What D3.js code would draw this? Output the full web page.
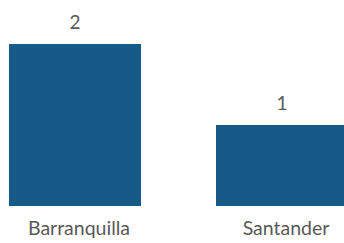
<!DOCTYPE html>
<html>
<head>
<meta charset="utf-8">
<script src="https://cdn.jsdelivr.net/npm/d3@7"></script>
<style>
html,body{margin:0;padding:0;background:#fff;}
svg{display:block;}
text{font-family:Lato,"Open Sans",sans-serif;fill:#595959;}
</style>
</head>
<body>
<svg id="chart" width="344" height="243"></svg>
<script>
const categories = ["Barranquilla", "Santander"];
const values = [2, 1];

const svg = d3.select("#chart");

const x = d3.scaleBand()
  .domain(categories)
  .range([9, 348])
  .paddingInner(75/207)
  .paddingOuter(0);

const y = d3.scaleLinear().domain([0, 2]).range([206, 44]);

const data = categories.map((c, i) => ({c, v: values[i]}));

const g = svg.append("g");

g.selectAll("rect.bar").data(data).enter().append("rect")
  .attr("class", "bar")
  .attr("x", d => x(d.c))
  .attr("y", d => y(d.v))
  .attr("width", x.bandwidth())
  .attr("height", d => y(0) - y(d.v))
  .attr("fill", "#165a87");

g.selectAll("text.val").data(data).enter().append("text")
  .attr("class", "val")
  .attr("x", d => x(d.c) + x.bandwidth()/2)
  .attr("y", d => y(d.v) - 15.5)
  .attr("text-anchor", "middle")
  .style("font-size", "19px")
  .text(d => d.v);

const xAxis = d3.axisBottom(x).tickSize(0).tickPadding(0);
const ax = svg.append("g").attr("transform", "translate(4,0)").call(xAxis);
ax.select(".domain").remove();
ax.selectAll(".tick text")
  .attr("y", 235)
  .attr("dy", 0)
  .style("font-size", "19.5px")
  .style("font-family", "Lato, 'Open Sans', sans-serif")
  .attr("fill", "#595959");
</script>
</body>
</html>
